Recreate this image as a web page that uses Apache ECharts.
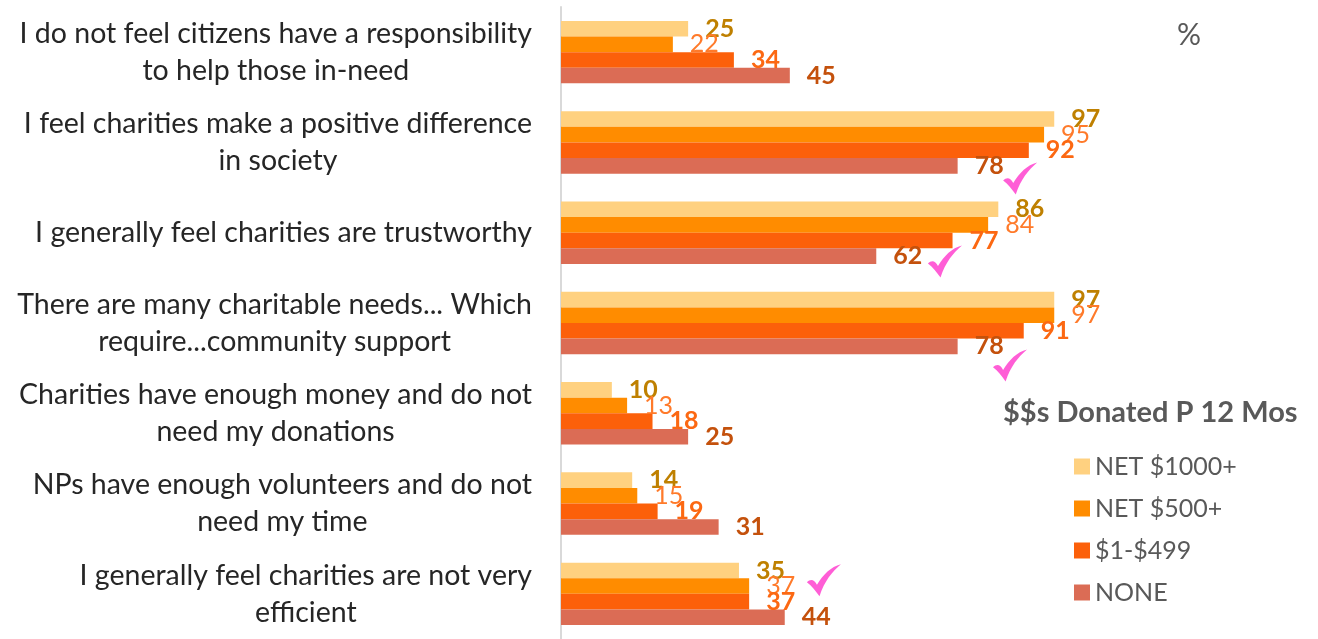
<!DOCTYPE html>
<html>
<head>
<meta charset="utf-8">
<script src="https://cdn.jsdelivr.net/npm/echarts@6/dist/echarts.min.js"></script>
<style>
  html, body { margin: 0; padding: 0; background: #fff; }
  #chart { width: 1318px; height: 639px; }
</style>
</head>
<body>
<div id="chart"></div>
<script>
// Attitude statements, top to bottom
const statements = [
  'I do not feel citizens have a responsibility\nto help those in-need',
  'I feel charities make a positive difference\nin society',
  'I generally feel charities are trustworthy',
  'There are many charitable needs... Which\nrequire...community support',
  'Charities have enough money and do not\nneed my donations',
  'NPs have enough volunteers and do not\nneed my time',
  'I generally feel charities are not very\nefficient'
];

// Agreement (%) by amount donated in the past 12 months
const seriesNames = ['NET $1000+', 'NET $500+', '$1-$499', 'NONE'];
const net1000 = [25, 97, 86, 97, 10, 14, 35];
const net500  = [22, 95, 84, 97, 13, 15, 37];
const low     = [34, 92, 77, 91, 18, 19, 37];
const none    = [45, 78, 62, 78, 25, 31, 44];

// Highlight ticks: [value, statement position]
const ticks = [[90.3, 1.40], [75.5, 2.32], [88.3, 3.47], [51.7, 5.85]];

const barColors   = ['#FFD180', '#FF8C00', '#FC600A', '#DB6C55'];
const labelColors = ['#BF8000', '#FF7A2A', '#FC6812', '#C4510C'];
const labelWeights = ['bold', 'normal', 'bold', 'bold'];
const FONT = 'Lato';

const chart = echarts.init(document.getElementById('chart'), null, { renderer: 'canvas' });

const values = [net1000, net500, low, none];
const barSeries = values.map((arr, i) => ({
  name: seriesNames[i],
  type: 'bar',
  data: arr,
  barWidth: 15.6,
  barGap: '0%',
  itemStyle: { color: barColors[i] },
  label: {
    show: true,
    position: 'right',
    distance: 17,
    color: labelColors[i],
    fontFamily: FONT,
    fontSize: 25,
    fontWeight: labelWeights[i]
  }
}));

chart.setOption({
  animation: false,
  textStyle: { fontFamily: FONT },
  title: [
    {
      text: '$$s Donated P 12 Mos',
      left: 998, top: 393,
      textStyle: { fontFamily: FONT, fontSize: 29, fontWeight: 'bold', color: '#595959' }
    },
    {
      text: '%',
      left: 1172, top: 15,
      textStyle: { fontFamily: FONT, fontSize: 30, fontWeight: 'normal', color: '#595959' }
    }
  ],
  legend: {
    data: seriesNames,
    orient: 'vertical',
    left: 1069,
    top: 449,
    itemWidth: 16,
    itemHeight: 16,
    itemGap: 17,
    icon: 'rect',
    textStyle: { fontFamily: FONT, fontSize: 25, color: '#595959' }
  },
  grid: { left: 561, top: 7, width: 508.5, height: 633, containLabel: false },
  xAxis: {
    type: 'value', min: 0, max: 100, show: false
  },
  yAxis: [
    {
      type: 'category',
      inverse: true,
      data: statements,
      axisLine: { show: true, lineStyle: { color: '#D9D9D9', width: 2 } },
      axisTick: { show: false },
      splitLine: { show: false },
      axisLabel: {
        margin: 29,
        align: 'right',
        lineHeight: 37,
        formatter: v => v.split('\n').map(l => '{c|' + l + '}').join('\n'),
        rich: {
          c: { align: 'center', fontFamily: FONT, fontSize: 28.5, lineHeight: 37, color: '#262626' }
        }
      }
    },
    {
      type: 'value', inverse: true, min: -0.5, max: 6.5, show: false
    }
  ],
  series: barSeries.concat([{
    type: 'scatter',
    yAxisIndex: 1,
    data: ticks,
    silent: true,
    symbol: 'path://M1,14 C4,11 7,12 9,16 C14,8 20,2 28,0 C21,6 15,13 11,25 C8,21 5,17 1,14 Z',
    symbolSize: [34, 32],
    itemStyle: { color: '#FF36CC' },
    z: 5
  }])
});
</script>
</body>
</html>
